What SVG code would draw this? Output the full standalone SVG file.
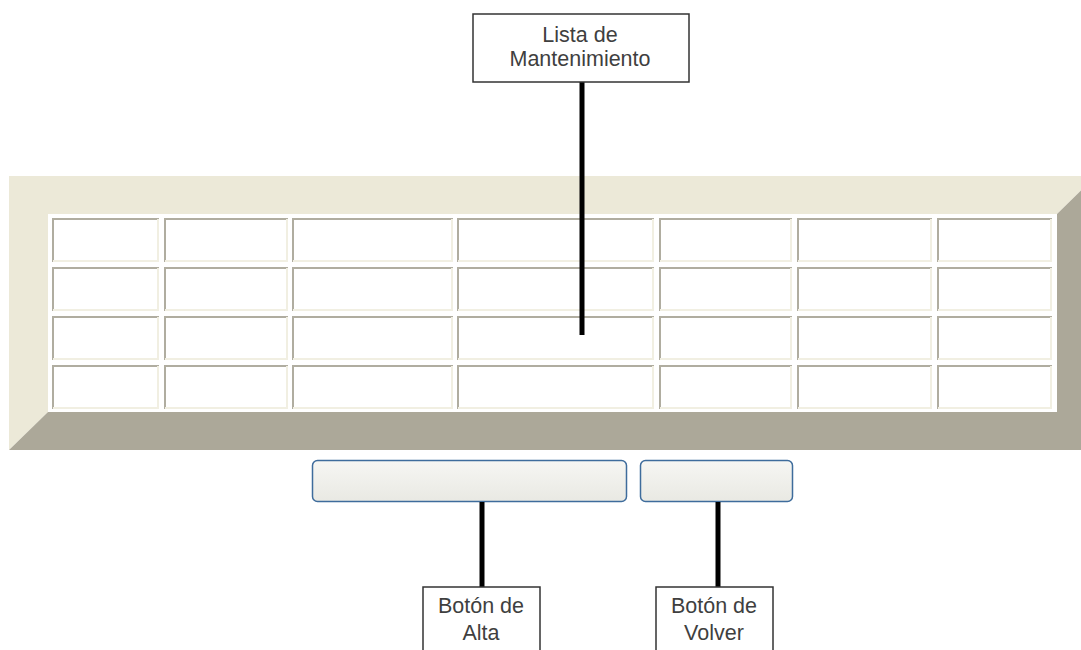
<svg xmlns="http://www.w3.org/2000/svg" width="1081" height="650" viewBox="0 0 1081 650">
<style>
.cell{fill:#ffffff}
.dk{stroke:#B0ADA0;stroke-width:2;fill:none}
.lt{stroke:#F1EFE2;stroke-width:2;fill:none}
.lbl{fill:#ffffff;stroke:#333333;stroke-width:1.5}
.txt{font-family:"Liberation Sans",Arial,sans-serif;font-size:21.5px;fill:#3f3f3f;text-anchor:middle}
.conn{stroke:#000000;stroke-width:5;fill:none}
.btn{fill:url(#bg);stroke:#3E6C9C;stroke-width:1.5}
</style>
<defs>
<linearGradient id="bg" x1="0" y1="0" x2="0" y2="1">
<stop offset="0" stop-color="#F6F6F3"/>
<stop offset="1" stop-color="#E9E9E3"/>
</linearGradient>
</defs>
<rect width="1081" height="650" fill="#ffffff"/>
<g id="frame">
<polygon points="9,176 1096,176 1057,214 48,214 48,412 9,450" fill="#ECE9D8"/>
<polygon points="1096,176 1096,450 9,450 48,412 1057,412 1057,214" fill="#ACA899"/>
<rect x="48" y="214" width="1009" height="198" fill="#ffffff"/>
</g>
<g id="cellborders">
<path class="dk" d="M53,262V219H159 M165,262V219H288 M293,262V219H453 M458,262V219H654 M660,262V219H792 M798,262V219H932 M938,262V219H1052
M53,311V268H159 M165,311V268H288 M293,311V268H453 M458,311V268H654 M660,311V268H792 M798,311V268H932 M938,311V268H1052
M53,360V317H159 M165,360V317H288 M293,360V317H453 M458,360V317H654 M660,360V317H792 M798,360V317H932 M938,360V317H1052
M53,409V366H159 M165,409V366H288 M293,409V366H453 M458,409V366H654 M660,409V366H792 M798,409V366H932 M938,409V366H1052"/>
<path class="lt" d="M158,219V261H53 M287,219V261H165 M452,219V261H293 M653,219V261H458 M791,219V261H660 M931,219V261H798 M1051,219V261H938
M158,268V310H53 M287,268V310H165 M452,268V310H293 M653,268V310H458 M791,268V310H660 M931,268V310H798 M1051,268V310H938
M158,317V359H53 M287,317V359H165 M452,317V359H293 M653,317V359H458 M791,317V359H660 M931,317V359H798 M1051,317V359H938
M158,366V408H53 M287,366V408H165 M452,366V408H293 M653,366V408H458 M791,366V408H660 M931,366V408H798 M1051,366V408H938"/>
</g>
<g id="btn-alta"><rect class="btn" x="312.5" y="460.5" width="314" height="41" rx="5"/></g>
<g id="btn-volver"><rect class="btn" x="640.5" y="460.5" width="152" height="41" rx="5"/></g>
<g id="connectors">
<line class="conn" x1="582" y1="82" x2="582" y2="335"/>
<line class="conn" x1="482" y1="502" x2="482" y2="587"/>
<line class="conn" x1="718" y1="502" x2="718" y2="587"/>
</g>
<g id="lbl-lista">
<rect class="lbl" x="473" y="14" width="216" height="68"/>
<text class="txt" x="580" y="42">Lista de</text>
<text class="txt" x="580" y="66">Mantenimiento</text>
</g>
<g id="lbl-alta">
<rect class="lbl" x="423" y="587" width="117" height="70"/>
<text class="txt" x="481" y="613">Botón de</text>
<text class="txt" x="481" y="640">Alta</text>
</g>
<g id="lbl-volver">
<rect class="lbl" x="656" y="587" width="117" height="70"/>
<text class="txt" x="714" y="613">Botón de</text>
<text class="txt" x="714" y="640">Volver</text>
</g>
</svg>
